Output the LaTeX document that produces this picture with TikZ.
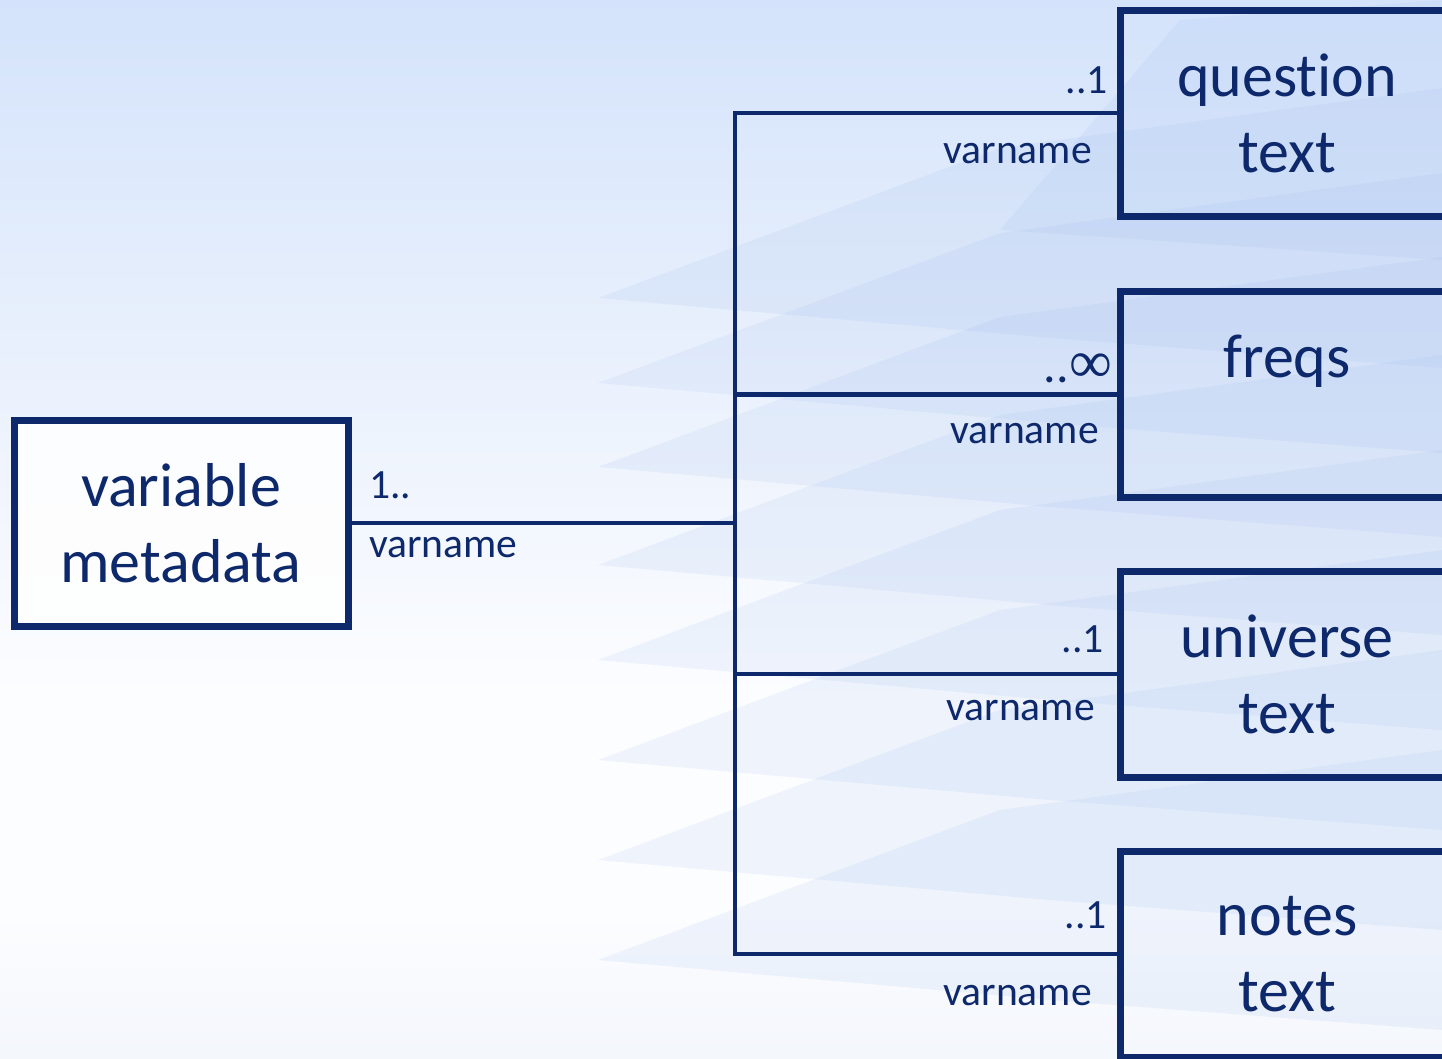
\documentclass[tikz,border=0pt]{standalone}
\usepackage{fontspec}
\setmainfont{Carlito}[Ligatures=NoCommon]
\newfontfamily\symfnt{Liberation Serif}
\definecolor{navy}{RGB}{14,41,107}
\definecolor{bgtop}{RGB}{196,216,249}
\definecolor{bgup}{RGB}{212,227,251}
\definecolor{bglow}{RGB}{237,243,253}
\definecolor{bgmid}{RGB}{252,253,255}
\definecolor{bgbot}{RGB}{214,224,240}
\definecolor{layer}{RGB}{150,182,236}
\pgfdeclareverticalshading{bgshade}{100bp}{color(0bp)=(bgbot); color(32bp)=(bgmid); color(42bp)=(bgmid); color(55bp)=(bglow); color(75bp)=(bgup); color(100bp)=(bgtop)}
\tikzset{
  box/.style={draw=navy, line width=7pt, minimum width=334pt, minimum height=206pt,
    inner sep=0pt, align=center, text=navy, font=\fontsize{62}{76}\selectfont},
  conn/.style={draw=navy, line width=4.5pt, line join=miter},
  lbl/.style={text=navy, inner sep=0pt, font=\fontsize{41.6}{50}\selectfont},
  bglayer/.style={fill=layer, fill opacity=0.13, draw=none}
}
\begin{document}
\begin{tikzpicture}[x=1pt,y=-1pt]
\clip (0,0) rectangle (1442,1058);
\shade[shading=bgshade] (0,0) rectangle (1442,1058);
% faint stacked layers
\foreach \yy in {298,383,467,565,660,760,860,960}{
  \path[bglayer] (598,\yy) -- (1000,\yy-150) -- (1442,\yy-210) -- (1442,\yy+70) -- (1050,\yy+40) -- cycle;
}
\path[bglayer] (1000,230) -- (1180,20) -- (1442,0) -- (1442,260) -- cycle;
% boxes
\node[box, fill=white, fill opacity=0.85, text opacity=1] (vm) at (181,523) {variable\\metadata};
\node[box] (qt) at (1287,113) {question\\text};
\node[box] (fq) at (1287,394.5) {freqs\\\phantom{text}};
\node[box] (ut) at (1287,674) {universe\\text};
\node[box] (nt) at (1287,954) {notes\\text};
\coordinate (spine) at (735,0);
% connectors
\draw[conn] (vm.east) -- (vm.east -| spine);
\draw[conn] (qt.west) -- (qt.west -| spine) -- (nt.west -| spine) -- (nt.west);
\draw[conn] (fq.west -| spine) -- (fq.west);
\draw[conn] (ut.west -| spine) -- (ut.west);
% labels
\node[lbl, anchor=base west] (l1) at (369,498) {1..};
\node[lbl, anchor=base west] (l2) at (369,557) {varname};
\node[lbl, anchor=base east, font=\fontsize{50}{58}\selectfont] (f1) at (1112,382) {..{\symfnt\fontsize{60}{66}\selectfont ∞}};
\node[lbl, anchor=base east] (q1) at (1108,93) {..1};
\node[lbl, anchor=base east] (q2) at (1092,163) {varname};
\node[lbl, anchor=base east] (f2) at (1099,443) {varname};
\node[lbl, anchor=base east] (u1) at (1104,652) {..1};
\node[lbl, anchor=base east] (u2) at (1095,720) {varname};
\node[lbl, anchor=base east] (n1) at (1107,928) {..1};
\node[lbl, anchor=base east] (n2) at (1092,1005) {varname};
\end{tikzpicture}
\end{document}
